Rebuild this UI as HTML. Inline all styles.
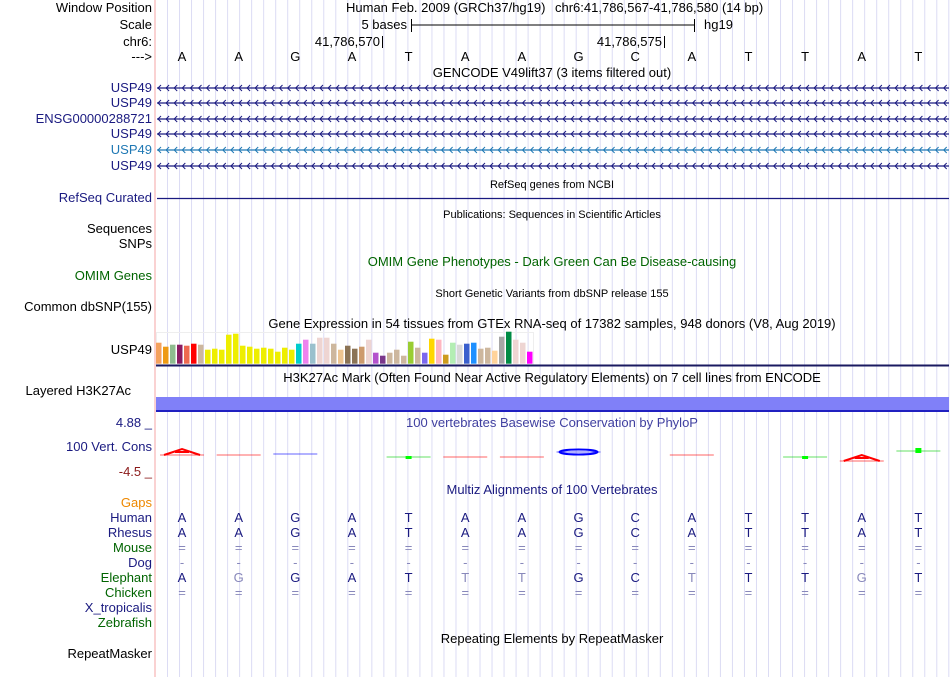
<!DOCTYPE html>
<html><head><meta charset="utf-8"><style>
html,body{margin:0;padding:0;background:#fff}
svg{display:block;font-family:"Liberation Sans",sans-serif}
</style></head><body>
<svg id="s" width="950" height="677" xmlns="http://www.w3.org/2000/svg">
<rect x="0" y="0" width="950" height="677" fill="#fff"/>
<g id="grid"></g>
<line x1="155" y1="0" x2="155" y2="677" stroke="#f4a6a6" stroke-width="1"/>
<g id="labels" font-size="13" text-anchor="end"></g>
<g id="tracks"></g>
</svg>
<script>
const NS="http://www.w3.org/2000/svg";
const bases=["A","A","G","A","T","A","A","G","C","A","T","T","A","T"];
const rhesus=["A","A","G","A","T","A","A","G","C","A","T","T","A","T"];
const elephant=["A","G","G","A","T","T","T","G","C","T","T","T","G","T"];
const elephantDim=[0,1,0,0,0,1,1,0,0,1,0,0,1,0];
const gtexValues=[21,17,19,19,18,20,19,14,15,14,29,30,18,17,15,16,15,12,16,14,20,24,20,26,26,20,14,18,15,17,24,11,8,11,14,8,22,16,11,25,24,9,21,19,20,21,15,16,13,27,32,24,21,12];
const gtexColors=["#f4a15d","#ee9a13","#8fbc8f","#8b1c62","#ee6a50","#ff0000","#cdb79e","#eeee00","#eeee00","#eeee00","#eeee00","#eeee00","#eeee00","#eeee00","#eeee00","#eeee00","#eeee00","#eeee00","#eeee00","#eeee00","#00cdcd","#ee82ee","#9ac0cd","#eed5d2","#eed5d2","#cdb79e","#eec591","#8b7355","#8b7355","#cd9b6d","#eed5d2","#b452cd","#7a378b","#cdb79e","#cdb79e","#cdb79e","#9acd32","#cdb79e","#7b68ee","#ffd700","#ffb6c1","#cd9b1d","#b4eeb4","#d9d9d9","#3a5fcd","#1e90ff","#cdb79e","#cdb79e","#ffd39b","#a6a6a6","#008b45","#eed5d2","#eed5d2","#ff00ff"];
const x0=156,x1=949,bw=(x1-x0)/14;
function bx(i){return x0+bw*(i+0.5)-2.3;}
function el(tag,attrs,parent,name,inter){const e=document.createElementNS(NS,tag);for(const k in attrs)e.setAttribute(k,attrs[k]);


(parent||document.getElementById('tracks')).appendChild(e);return e;}
function txt(x,y,s,opt,name,parent){const t=el('text',Object.assign({x:x,y:y,'font-size':13,fill:'#000'},opt||{}),parent,name,false);t.textContent=s;return t;}
const g=document.getElementById('grid');
for(let x=167.5;x<950;x+=12.02){el('line',{x1:x,y1:0,x2:x,y2:677,stroke:'#dcdcf4','stroke-width':1},g,'grid-line',false);}
const L=document.getElementById('labels');
const labs=[["Window Position",12,"#000"],["Scale",29,"#000"],["chr6:",46,"#000"],["--->",61,"#000"],["USP49",92,"#1a1a80"],["USP49",107,"#1a1a80"],["ENSG00000288721",123,"#1a1a80"],["USP49",138,"#1a1a80"],["USP49",154,"#1f78b4"],["USP49",170,"#1a1a80"],["RefSeq Curated",202,"#1a1a80"],["Sequences",233,"#000"],["SNPs",248,"#000"],["OMIM Genes",280,"#006400"],["Common dbSNP(155)",311,"#000"],["USP49",354,"#000"],["4.88 _",427,"#1a1a80"],["100 Vert. Cons",451,"#1a1a80"],["-4.5 _",476,"#8b1a1a"],["Gaps",507,"#ee8800"],["Human",522,"#1a1a80"],["Rhesus",537,"#1a1a80"],["Mouse",552,"#006400"],["Dog",567,"#1a1a80"],["Elephant",582,"#006400"],["Chicken",597,"#006400"],["X_tropicalis",612,"#1a1a80"],["Zebrafish",627,"#006400"],["RepeatMasker",658,"#000"]];
labs.forEach(l=>txt(152,l[1],l[0],{fill:l[2],'text-anchor':'end'},'track-label-'+l[0].toLowerCase().replace(/[^a-z0-9]+/g,'-'),L));
txt(131,395,"Layered H3K27Ac",{'text-anchor':'end'},'track-label-layered-h3k27ac',L);
txt(346,12,"Human Feb. 2009 (GRCh37/hg19)",{},'assembly-text');
txt(555,12,"chr6:41,786,567-41,786,580 (14 bp)",{},'window-position-text');
txt(407,29,"5 bases",{'text-anchor':'end'},'scale-label');
el('line',{x1:411,y1:25,x2:694,y2:25,stroke:'#000'},null,'scale-bar',false);
el('line',{x1:411.5,y1:19,x2:411.5,y2:32,stroke:'#000'},null,'scale-bar-left',false);
el('line',{x1:694.5,y1:19,x2:694.5,y2:32,stroke:'#000'},null,'scale-bar-right',false);
txt(704,29,"hg19",{},'assembly-label');
txt(380,46,"41,786,570",{'text-anchor':'end'},'coord-label-570');
el('line',{x1:382.5,y1:36,x2:382.5,y2:48,stroke:'#000'},null,'coord-tick-570',false);
txt(662,46,"41,786,575",{'text-anchor':'end'},'coord-label-575');
el('line',{x1:664.5,y1:36,x2:664.5,y2:48,stroke:'#000'},null,'coord-tick-575',false);
bases.forEach((b,i)=>txt(bx(i),61,b,{'text-anchor':'middle'},'base-'+i));
txt(552,77,"GENCODE V49lift37 (3 items filtered out)",{'text-anchor':'middle'},'gencode-title');
[88,103,119,134,150,166].forEach((y,j)=>{const c=j==4?'#1f78b4':'#1a1a80';
 el('line',{x1:157,y1:y,x2:949,y2:y,stroke:c,'stroke-width':1.3},null,'transcript-line',false);
 let d='';for(let x=158;x<949;x+=8.1){d+=`M${x+3},${y-3}L${x},${y}L${x+3},${y+3}`;}
 el('path',{d:d,stroke:c,fill:'none','stroke-width':1},null,'strand-arrows',false);});
txt(552,188,"RefSeq genes from NCBI",{'text-anchor':'middle','font-size':11},'refseq-title');
el('line',{x1:157,y1:198.5,x2:949,y2:198.5,stroke:'#1a1a80','stroke-width':1.3},null,'refseq-line',false);
txt(552,218,"Publications: Sequences in Scientific Articles",{'text-anchor':'middle','font-size':11},'publications-title');
txt(552,266,"OMIM Gene Phenotypes - Dark Green Can Be Disease-causing",{'text-anchor':'middle',fill:'#006400'},'omim-title');
txt(552,297,"Short Genetic Variants from dbSNP release 155",{'text-anchor':'middle','font-size':11},'dbsnp-title');
txt(552,328,"Gene Expression in 54 tissues from GTEx RNA-seq of 17382 samples, 948 donors (V8, Aug 2019)",{'text-anchor':'middle'},'gtex-title');
const gb=363.7, gs=1.0;
el('rect',{x:156.5,y:332.5,width:377,height:32,fill:'none',stroke:'#eee'},null,'gtex-frame',false);
gtexValues.forEach((v,i)=>{const h=v*gs;el('rect',{x:156+i*7,y:gb-h,width:5.5,height:h,fill:gtexColors[i]},null,'gtex-bar',true);});
el('rect',{x:156,y:364.5,width:793,height:2,fill:'#1a1a60'},null,'gtex-baseline',false);
txt(552,382,"H3K27Ac Mark (Often Found Near Active Regulatory Elements) on 7 cell lines from ENCODE",{'text-anchor':'middle'},'h3k27ac-title');
el('rect',{x:156,y:397,width:793,height:13,fill:'#8080f8'},null,'h3k27ac-signal',true);
el('rect',{x:156,y:410,width:793,height:2,fill:'#2020c0'},null,'h3k27ac-edge',false);
txt(552,427,"100 vertebrates Basewise Conservation by PhyloP",{'text-anchor':'middle',fill:'#4040a0'},'phylop-title');
const consColor=["#f00","#f00","#00f","","#0c0","#f00","#f00","#00f","","#f00","","#0c0","#f00","#0c0"];
const consY=[455,455,454,0,457,457,457,452,0,455,0,457,461,451];
consColor.forEach((c,i)=>{if(!c)return;const cx=bx(i),y=consY[i];
 el('line',{x1:cx-22,y1:y,x2:cx+22,y2:y,stroke:c,'stroke-width':1,opacity:0.6},null,'phylop-mark',false);
 if(i==0||i==12)el('path',{d:`M${cx-18},${y}L${cx},${y-6}L${cx+18},${y}M${cx-7},${y-3}L${cx+7},${y-3}`,stroke:c,fill:'none','stroke-width':2},null,'phylop-letter-a',false);
 if(i==7){el('ellipse',{cx:cx,cy:y,rx:19,ry:2.5,stroke:c,fill:'none','stroke-width':2},null,'phylop-letter-g',false);}
 if(i==4||i==11||i==13)el('rect',{x:cx-3,y:y-(i==13?3:1),width:6,height:i==13?5:3,fill:'#0f0'},null,'phylop-mark-small',false);
});
txt(552,494,"Multiz Alignments of 100 Vertebrates",{'text-anchor':'middle',fill:'#1a1a80'},'multiz-title');
bases.forEach((b,i)=>{const x=bx(i);
 txt(x,522,b,{'text-anchor':'middle',fill:'#1a1a80'},'human-base');
 txt(x,537,rhesus[i],{'text-anchor':'middle',fill:'#1a1a80'},'rhesus-base');
 txt(x,552,"=",{'text-anchor':'middle',fill:'#8888bb'},'mouse-base');
 txt(x,567,"-",{'text-anchor':'middle',fill:'#8888bb'},'dog-base');
 txt(x,582,elephant[i],{'text-anchor':'middle',fill:elephantDim[i]?'#8888bb':'#1a1a80'},'elephant-base');
 txt(x,597,"=",{'text-anchor':'middle',fill:'#8888bb'},'chicken-base');
});
txt(552,643,"Repeating Elements by RepeatMasker",{'text-anchor':'middle'},'repeatmasker-title');
</script>
</body></html>
